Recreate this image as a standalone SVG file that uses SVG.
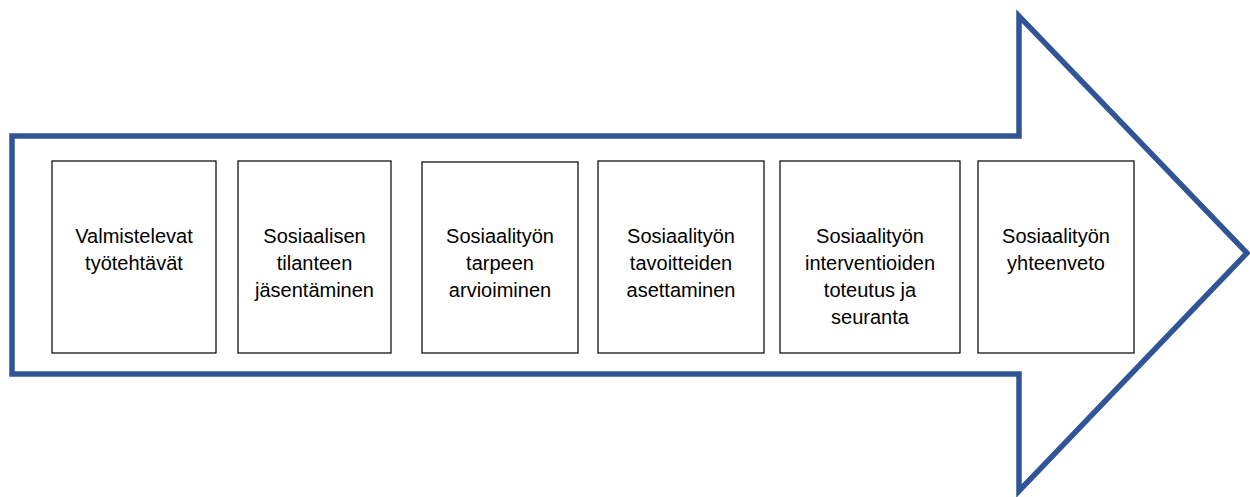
<svg xmlns="http://www.w3.org/2000/svg" width="1250" height="497" viewBox="0 0 1250 497">
<style>
.arrow{fill:#fff;stroke:#2F5597;stroke-width:5.5;stroke-linejoin:miter;stroke-miterlimit:10}
.box{fill:#fff;stroke:#000;stroke-width:1.2}
.lbl{font-family:"Liberation Sans",Arial,sans-serif;font-size:20px;fill:#000;text-anchor:middle}
</style>
<rect width="1250" height="497" fill="#fff"/>
<g id="arrow">
<path class="arrow" d="M12,136 L1019,136 L1019,16 L1247,253 L1019,491 L1019,374 L12,374 Z"/>
</g>
<g id="connectors"></g>
<g id="n1"><rect class="box" x="52" y="161" width="164" height="192"/>
<text class="lbl" x="134" y="243">Valmistelevat</text><text class="lbl" x="134" y="270">työtehtävät</text></g>
<g id="n2"><rect class="box" x="238" y="161" width="153" height="192"/>
<text class="lbl" x="314.5" y="243">Sosiaalisen</text><text class="lbl" x="314.5" y="270">tilanteen</text><text class="lbl" x="314.5" y="297">jäsentäminen</text></g>
<g id="n3"><rect class="box" x="422" y="162" width="156" height="191"/>
<text class="lbl" x="500" y="243">Sosiaalityön</text><text class="lbl" x="500" y="270">tarpeen</text><text class="lbl" x="500" y="297">arvioiminen</text></g>
<g id="n4"><rect class="box" x="598" y="161" width="166" height="192"/>
<text class="lbl" x="681" y="243">Sosiaalityön</text><text class="lbl" x="681" y="270">tavoitteiden</text><text class="lbl" x="681" y="297">asettaminen</text></g>
<g id="n5"><rect class="box" x="780" y="161" width="180" height="192"/>
<text class="lbl" x="870" y="243">Sosiaalityön</text><text class="lbl" x="870" y="270">interventioiden</text><text class="lbl" x="870" y="297">toteutus ja</text><text class="lbl" x="870" y="324">seuranta</text></g>
<g id="n6"><rect class="box" x="978" y="161" width="156" height="192"/>
<text class="lbl" x="1056" y="243">Sosiaalityön</text><text class="lbl" x="1056" y="270">yhteenveto</text></g>
</svg>
